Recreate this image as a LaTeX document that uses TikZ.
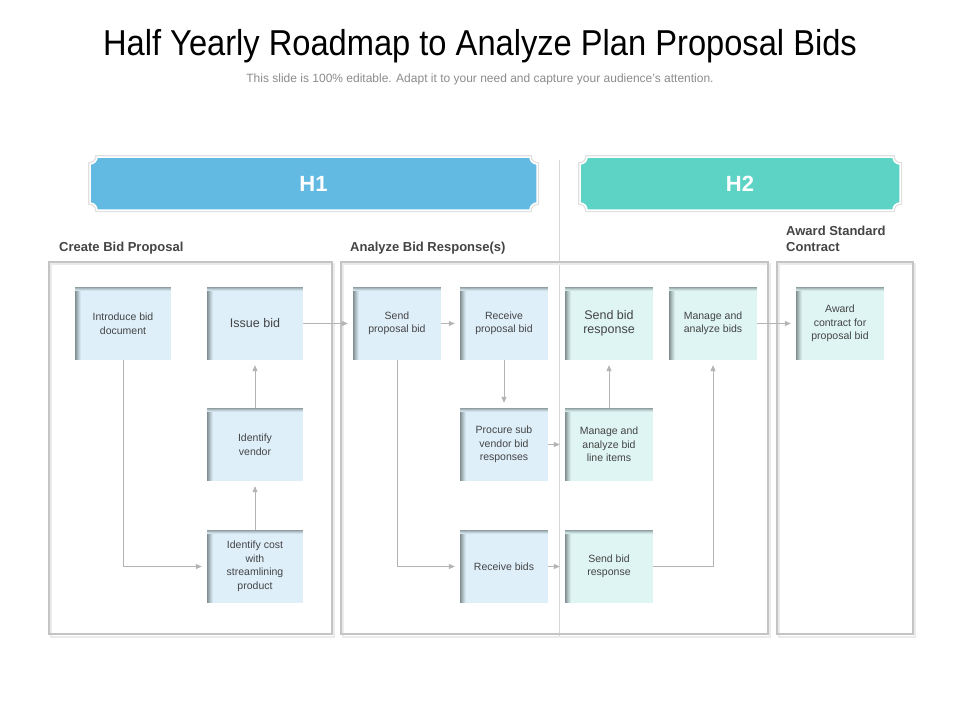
\documentclass[tikz,border=0pt]{standalone}
\usepackage{fontspec}
\setmainfont{Liberation Sans}
\usetikzlibrary{arrows.meta,calc}
\definecolor{hone}{RGB}{98,185,226}
\definecolor{htwo}{RGB}{93,211,198}
\definecolor{boxblue}{RGB}{222,239,250}
\definecolor{boxteal}{RGB}{222,245,243}
\definecolor{boxedge}{RGB}{125,138,140}
\definecolor{textgray}{RGB}{68,68,68}
\definecolor{arrowgray}{RGB}{180,180,180}
\definecolor{framegray}{RGB}{196,196,196}

\begin{document}
\begin{tikzpicture}[x=1pt, y=-1pt, >={Triangle[length=6pt,width=5pt]},
	flowbox/.style={rectangle, fill=#1, minimum width=88pt, minimum height=73pt, inner sep=1pt,
		align=center, text=textgray, font=\fontsize{10.5}{13.5}\selectfont,
		path picture={
			\foreach \a/\b/\p in {0/1/5,1/2/22,2/3/40,3/4/58,4/5/74,5/6/88}
				\fill[#1!\p!boxedge] ([xshift=\a pt]path picture bounding box.north west) rectangle ([xshift=\b pt]path picture bounding box.south west);
			\foreach \a/\b/\p in {0/1/20,1/2/45,2/3/68,3/4/86}
				\fill[#1!\p!boxedge] ([yshift=-\a pt]path picture bounding box.north west) rectangle ([yshift=-\b pt]path picture bounding box.north east);
		}},
	flow/.style={->, draw=arrowgray, line width=0.8pt, shorten >=5pt},
	panel/.style={draw=framegray, line width=1.2pt},
	paneltitle/.style={anchor=base west, inner sep=0pt, font=\fontsize{13}{15.5}\selectfont\bfseries, text=textgray, align=left},
	bartext/.style={font=\fontsize{22}{24}\selectfont\bfseries, text=white}]
	\useasboundingbox (0,0) rectangle (960,720);
	\fill[white] (0,0) rectangle (960,720);

	\node (title) at (480,46) {\scalebox{0.907}[1]{\fontsize{36}{40}\selectfont Half Yearly Roadmap to Analyze Plan Proposal Bids}};
	\node[text=black!45, font=\fontsize{12}{14}\selectfont] (subtitle) at (480,79) {This slide is 100\% editable. Adapt it to your need and capture your audience’s attention.};

	\draw[black!12, line width=4pt] (97,157) -- (530,157) arc[start angle=180, end angle=90, radius=7] -- (537,203) arc[start angle=270, end angle=180, radius=7] -- (97,210) arc[start angle=0, end angle=-90, radius=7] -- (90,164) arc[start angle=90, end angle=0, radius=7] -- cycle;
	\filldraw[fill=hone, draw=white, line width=1.5pt] (97,157) -- (530,157) arc[start angle=180, end angle=90, radius=7] -- (537,203) arc[start angle=270, end angle=180, radius=7] -- (97,210) arc[start angle=0, end angle=-90, radius=7] -- (90,164) arc[start angle=90, end angle=0, radius=7] -- cycle;
	\draw[black!12, line width=4pt] (587,157) -- (893,157) arc[start angle=180, end angle=90, radius=7] -- (900,203) arc[start angle=270, end angle=180, radius=7] -- (587,210) arc[start angle=0, end angle=-90, radius=7] -- (580,164) arc[start angle=90, end angle=0, radius=7] -- cycle;
	\filldraw[fill=htwo, draw=white, line width=1.5pt] (587,157) -- (893,157) arc[start angle=180, end angle=90, radius=7] -- (900,203) arc[start angle=270, end angle=180, radius=7] -- (587,210) arc[start angle=0, end angle=-90, radius=7] -- (580,164) arc[start angle=90, end angle=0, radius=7] -- cycle;
	\node[bartext] (hlabel) at (313.5,184) {H1};
	\node[bartext] (hlabeltwo) at (740,184) {H2};

	\draw[framegray!70, line width=0.8pt] (559,160) -- (559,637);

	\node[paneltitle] (create) at (59,251) {Create Bid Proposal};
	\node[paneltitle] (analyze) at (350,251) {Analyze Bid Response(s)};
	\node[paneltitle] (awardtitle) at (786,251) {Award Standard\\Contract};

	\draw[black!8, line width=2pt] (51,264) rectangle (334,637);
	\draw[black!8, line width=2pt] (343,264) rectangle (770,637);
	\draw[black!8, line width=2pt] (779,264) rectangle (915,637);
	\draw[panel] (49,262) rectangle (332,634);
	\draw[panel] (341,262) rectangle (768,634);
	\draw[panel] (777,262) rectangle (913,634);

	\node[flowbox=boxblue, minimum width=96pt] (intro) at (123,323.5) {Introduce bid\\document};
	\node[flowbox=boxblue, minimum width=96pt, font=\fontsize{12.5}{14}\selectfont] (issue) at (255,323.5) {Issue bid};
	\node[flowbox=boxblue, minimum width=96pt] (vendor) at (255,444.5) {Identify\\vendor};
	\node[flowbox=boxblue, minimum width=96pt] (cost) at (255,566.5) {Identify cost\\with\\streamlining\\product};
	\node[flowbox=boxblue] (sendprop) at (397,323.5) {Send\\proposal bid};
	\node[flowbox=boxblue] (recvprop) at (504,323.5) {Receive\\proposal bid};
	\node[flowbox=boxblue] (procure) at (504,444.5) {Procure sub\\vendor bid\\responses};
	\node[flowbox=boxblue] (recvbids) at (504,566.5) {Receive bids};
	\node[flowbox=boxteal, font=\fontsize{12.5}{14.5}\selectfont] (sendresp) at (609,323.5) {Send bid\\response};
	\node[flowbox=boxteal] (lineitems) at (609,444.5) {Manage and\\analyze bid\\line items};
	\node[flowbox=boxteal] (sendresptwo) at (609,566.5) {Send bid\\response};
	\node[flowbox=boxteal] (managebids) at (713,323.5) {Manage and\\analyze bids};
	\node[flowbox=boxteal] (award) at (840,323.5) {Award\\contract for\\proposal bid};

	\draw[flow] (intro.south) |- (cost.west);
	\draw[flow] (cost.north) -- (vendor.south);
	\draw[flow] (vendor.north) -- (issue.south);
	\draw[flow] (issue.east) -- (sendprop.west);
	\draw[flow] (sendprop.east) -- (recvprop.west);
	\draw[flow] (recvprop.south) -- (procure.north);
	\draw[flow] (sendprop.south) |- (recvbids.west);
	\draw[flow] (procure.east) -- (lineitems.west);
	\draw[flow] (recvbids.east) -- (sendresptwo.west);
	\draw[flow] (lineitems.north) -- (sendresp.south);
	\draw[flow] (sendresptwo.east) -| (managebids.south);
	\draw[flow] (managebids.east) -- (award.west);
\end{tikzpicture}
\end{document}
